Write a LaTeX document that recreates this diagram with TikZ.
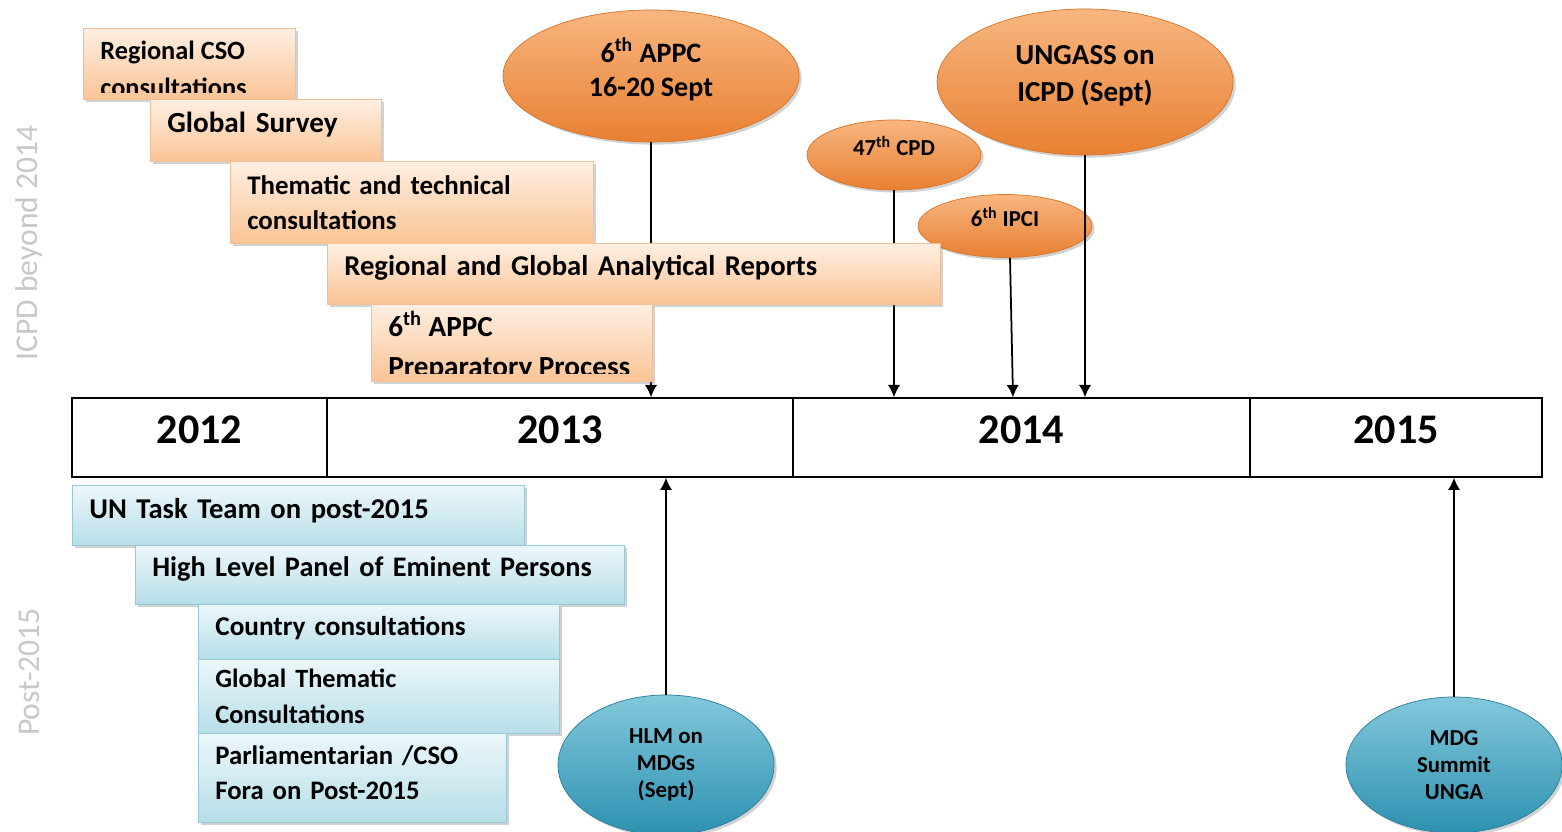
\documentclass[tikz,border=0pt]{standalone}
\usepackage{fontspec}
\setmainfont{Carlito}
\usetikzlibrary{shapes.geometric,shadows,arrows.meta}

\definecolor{oboxtop}{RGB}{254,239,226}
\definecolor{oboxbot}{RGB}{250,196,150}
\definecolor{oboxline}{RGB}{242,190,150}
\definecolor{bboxtop}{RGB}{236,247,250}
\definecolor{bboxbot}{RGB}{183,222,232}
\definecolor{bboxline}{RGB}{150,200,215}
\definecolor{oelltop}{RGB}{248,182,128}
\definecolor{oellbot}{RGB}{232,128,50}
\definecolor{oellline}{RGB}{215,115,40}
\definecolor{belltop}{RGB}{130,200,220}
\definecolor{bellbot}{RGB}{45,145,175}
\definecolor{bellline}{RGB}{40,125,155}
\definecolor{sidegray}{RGB}{200,200,200}

\begin{document}
\begin{tikzpicture}[
    link/.style={line width=1pt,-{Latex[length=7pt,width=7pt]}},
    obox/.style={draw=oboxline,top color=oboxtop,bottom color=oboxbot,anchor=north west,
      inner xsep=0.34cm,inner ysep=0pt,align=left,font=\bfseries\fontsize{16.3}{19.5}\selectfont,
      drop shadow={shadow xshift=1.5pt,shadow yshift=-1.5pt,opacity=0.35}},
    bbox/.style={obox,draw=bboxline,top color=bboxtop,bottom color=bboxbot},
    btxt/.style={anchor=base west,inner sep=0pt},
    ell/.style={ellipse,inner sep=0pt,align=center,
      drop shadow={shadow xshift=1.5pt,shadow yshift=-1.5pt,opacity=0.35}},
    oell/.style={ell,draw=oellline,top color=oelltop,bottom color=oellbot,text depth=10pt,
      font=\bfseries\fontsize{16}{19}\selectfont},
    bell/.style={ell,draw=bellline,top color=belltop,bottom color=bellbot,
      font=\bfseries\fontsize{13}{15.5}\selectfont},
    year/.style={draw,fill=white,line width=0.8pt,minimum height=1.58cm,inner sep=0pt,
      text depth=9pt,font=\bfseries\fontsize{24}{28}\selectfont},
    side/.style={rotate=90,text=sidegray,font=\fontsize{18}{20}\selectfont}
  ]
  \path[use as bounding box,fill=white] (0,0) rectangle (31.24,16.64);

  % the years
  \node[year,minimum width=5.10cm] (y2012) at (3.99,7.89) {2012};
  \node[year,minimum width=9.32cm] (y2013) at (11.20,7.89) {2013};
  \node[year,minimum width=9.14cm] (y2014) at (20.43,7.89) {2014};
  \node[year,minimum width=5.84cm] (y2015) at (27.92,7.89) {2015};

  \node[side] (icpd) at (0.58,11.78) {ICPD beyond 2014};
  \node[side] (post) at (0.58,3.20) {Post-2015};

  % events
  \node[oell,minimum width=5.92cm,minimum height=2.64cm] (appc) at (13.02,15.12) {6\textsuperscript{th} APPC\\16-20 Sept};
  \node[oell,minimum width=5.92cm,minimum height=2.92cm,font=\bfseries\fontsize{16.5}{21}\selectfont] (ungass) at (21.70,15.00) {UNGASS on\\ICPD (Sept)};
  \node[oell,minimum width=3.48cm,minimum height=1.40cm,font=\bfseries\fontsize{13}{15}\selectfont] (cpd) at (17.88,13.54) {47\textsuperscript{th} CPD};
  \node[oell,minimum width=3.48cm,minimum height=1.26cm,font=\bfseries\fontsize{13}{15}\selectfont] (ipci) at (20.10,12.12) {6\textsuperscript{th} IPCI};
  \node[bell,minimum width=4.32cm,minimum height=2.80cm] (hlm) at (13.32,1.34) {HLM on\\MDGs\\(Sept)};
  \node[bell,minimum width=4.32cm,minimum height=2.72cm] (mdg) at (29.08,1.34) {MDG\\Summit\\UNGA};

  \draw[link] (appc.south) -- (appc.south |- y2013.north);
  \draw[link] (cpd.south) -- (cpd.south |- y2014.north);
  \draw[link] ([xshift=0.1cm]ipci.south) -- ([xshift=0.16cm]ipci.south |- y2014.north);
  \draw[link] (ungass.south) -- (ungass.south |- y2014.north);
  \draw[link] (hlm.north) -- (hlm.north |- y2013.south);
  \draw[link] (mdg.north) -- (mdg.north |- y2015.south);

  % ICPD processes
  \node[obox,minimum width=4.24cm,minimum height=1.42cm] (cso) at (1.66,16.08) {};
  \begin{scope}[font=\bfseries\fontsize{15}{19}\selectfont]
    \clip (cso.north west) rectangle ([yshift=0.14cm]cso.south east);
    \node[btxt] (csoa) at ([xshift=0.34cm,yshift=-0.64cm]cso.north west) {Regional CSO};
    \node[btxt] (csob) at ([xshift=0.34cm,yshift=-1.37cm]cso.north west) {consultations};
  \end{scope}
  \node[obox,minimum width=4.62cm,minimum height=1.24cm,text width=3.94cm,text depth=9pt,font=\bfseries\fontsize{16.6}{19.5}\selectfont] (survey) at (3.00,14.66) {Global Survey};
  \node[obox,minimum width=7.26cm,minimum height=1.64cm,text width=6.58cm,font=\bfseries\fontsize{15.3}{20}\selectfont] (thematic) at (4.60,13.42) {Thematic and technical\\consultations};
  \node[obox,minimum width=12.26cm,minimum height=1.22cm,text width=11.58cm,text depth=9pt] (reports) at (6.54,11.78) {Regional and Global Analytical Reports};
  \node[obox,minimum width=5.62cm,minimum height=1.54cm] (prep) at (7.42,10.56) {};
  \begin{scope}[font=\bfseries\fontsize{16.6}{20}\selectfont]
    \clip (prep.north west) rectangle ([yshift=0.16cm]prep.south east);
    \node[btxt] (prepa) at ([xshift=0.34cm,yshift=-0.66cm]prep.north west) {6\textsuperscript{th} APPC};
    \node[btxt] (prepb) at ([xshift=0.34cm,yshift=-1.46cm]prep.north west) {Preparatory Process};
  \end{scope}

  % post-2015 processes
  \node[bbox,minimum width=9.04cm,minimum height=1.20cm,text width=8.36cm,text depth=8pt] (task) at (1.44,6.94) {UN Task Team on post-2015};
  \node[bbox,minimum width=9.78cm,minimum height=1.18cm,text width=9.10cm,text depth=9pt,font=\bfseries\fontsize{16.1}{19.5}\selectfont] (panel) at (2.70,5.74) {High Level Panel of Eminent Persons};
  \node[bbox,minimum width=7.22cm,minimum height=1.10cm,text width=6.54cm,text depth=7pt,font=\bfseries\fontsize{15.5}{19.5}\selectfont] (country) at (3.96,4.56) {Country consultations};
  \node[bbox,minimum width=7.22cm,minimum height=1.48cm,text width=6.54cm,font=\bfseries\fontsize{15}{20}\selectfont] (gtc) at (3.96,3.46) {Global Thematic\\Consultations};
  \node[bbox,minimum width=6.16cm,minimum height=1.78cm,text width=5.48cm,text depth=25.5pt,font=\bfseries\fontsize{15.2}{20}\selectfont] (parl) at (3.96,1.98) {Parliamentarian /CSO\\Fora on Post-2015};
\end{tikzpicture}
\end{document}
